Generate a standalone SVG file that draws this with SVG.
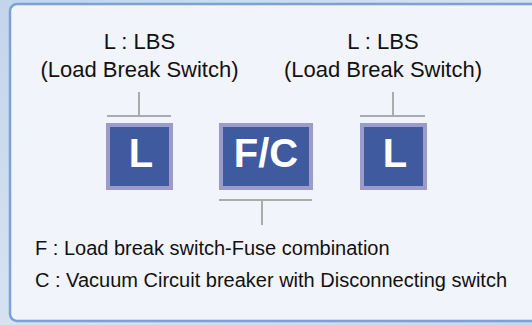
<svg xmlns="http://www.w3.org/2000/svg" width="532" height="325" viewBox="0 0 532 325">
<style>
.lbl{font-family:"Liberation Sans",Arial,sans-serif;font-size:22px;fill:#111;text-anchor:middle}
.desc{font-family:"Liberation Sans",Arial,sans-serif;font-size:20px;fill:#111}
.box{fill:#3f5a9f;stroke:#9d9bcb;stroke-width:4}
.btxt{font-family:"Liberation Sans",Arial,sans-serif;font-size:40px;font-weight:bold;fill:#fff;text-anchor:middle}
.wire{stroke:#a9abad;stroke-width:2;fill:none}
</style>
<defs>
<linearGradient id="bg" x1="0" y1="0" x2="1" y2="1">
<stop offset="0" stop-color="#c3d5ec"/>
<stop offset="0.5" stop-color="#d6e2f0"/>
<stop offset="1" stop-color="#c8d8ec"/>
</linearGradient>
</defs>
<rect x="0" y="0" width="532" height="325" fill="url(#bg)"/>
<rect x="10" y="4" width="540" height="317" rx="7" fill="#f1f4fa" stroke="#7ba1d6" stroke-width="2.5"/>
<g id="connectors">
<path class="wire" d="M139 92V116M107 116H171"/>
<path class="wire" d="M393 92V116M360 116H425"/>
<path class="wire" d="M219 200H312M262 200V225"/>
</g>
<g id="label-left">
<text class="lbl" x="139.5" y="49">L : LBS</text>
<text class="lbl" x="139.5" y="77">(Load Break Switch)</text>
</g>
<g id="label-right">
<text class="lbl" x="383" y="49">L : LBS</text>
<text class="lbl" x="383" y="77">(Load Break Switch)</text>
</g>
<g id="node-L1">
<rect class="box" x="108" y="125" width="63" height="63"/>
<text class="btxt" x="141" y="167">L</text>
</g>
<g id="node-FC">
<rect class="box" x="221" y="125" width="90" height="63"/>
<text class="btxt" x="266" y="167">F/C</text>
</g>
<g id="node-L2">
<rect class="box" x="362" y="125" width="63" height="63"/>
<text class="btxt" x="395" y="167">L</text>
</g>
<g id="legend">
<text class="desc" x="35" y="255">F : Load break switch-Fuse combination</text>
<text class="desc" x="35" y="287">C : Vacuum Circuit breaker with Disconnecting switch</text>
</g>
</svg>
